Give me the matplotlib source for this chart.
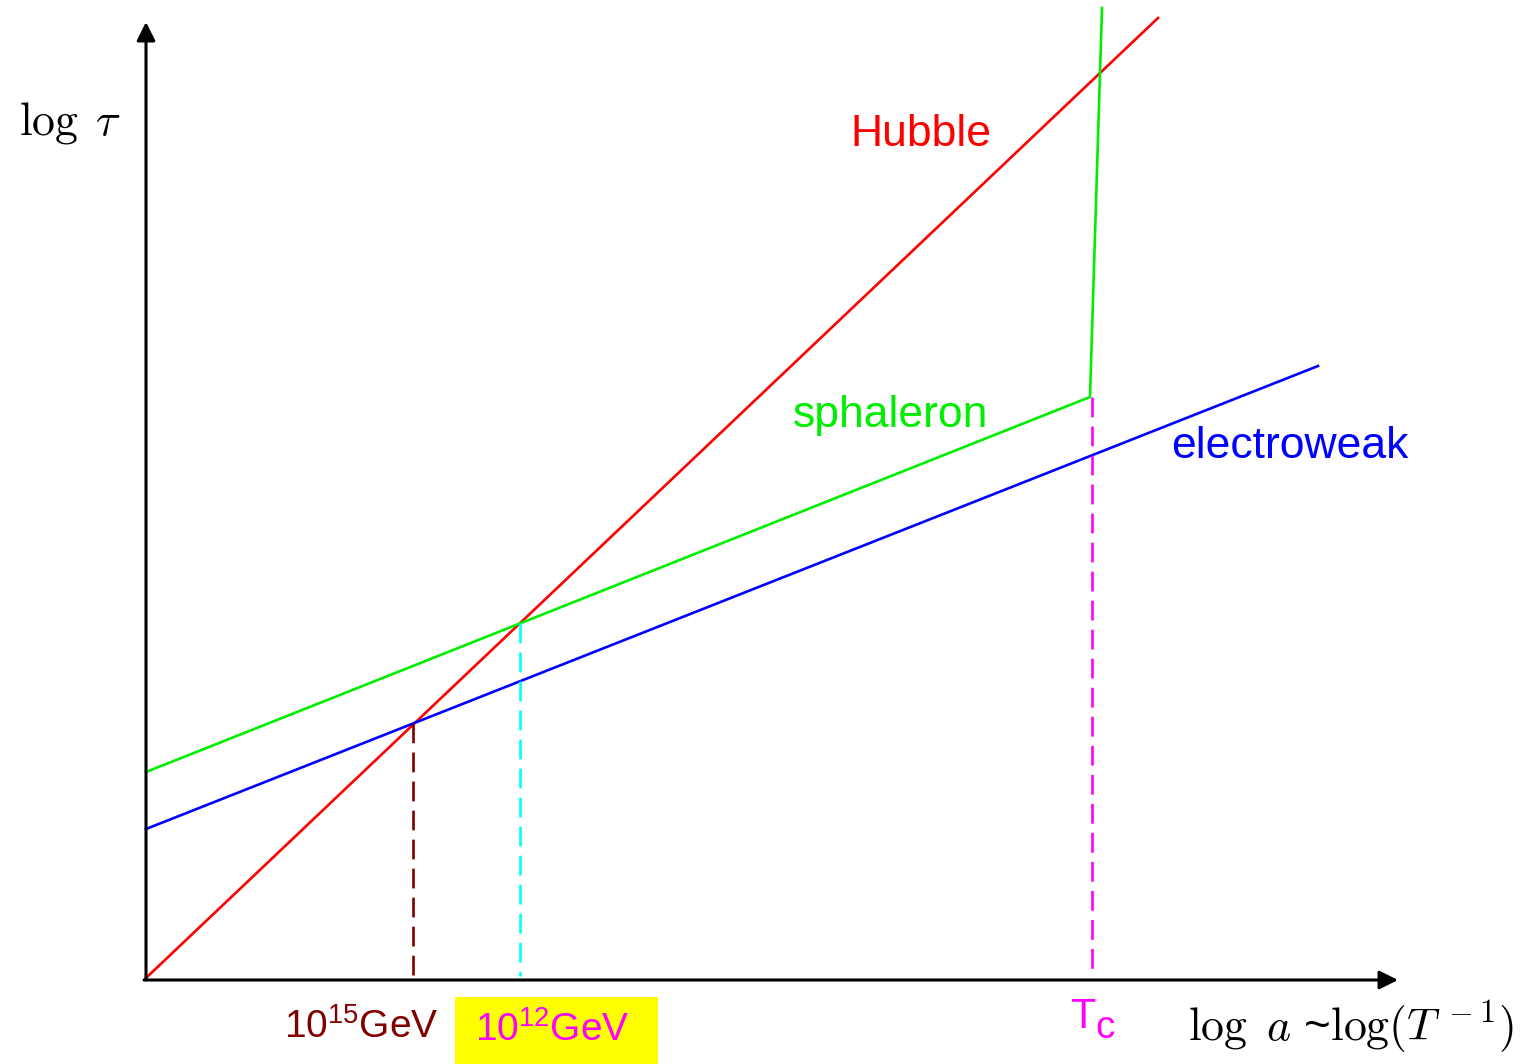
import matplotlib
matplotlib.use("Agg")
import matplotlib.pyplot as plt
from matplotlib.patches import Rectangle

plt.rcParams["font.family"] = ["Liberation Sans", "DejaVu Sans"]
plt.rcParams["mathtext.fontset"] = "custom"
plt.rcParams["mathtext.rm"] = "Liberation Sans"
plt.rcParams["mathtext.it"] = "Liberation Sans:italic"
plt.rcParams["mathtext.bf"] = "Liberation Sans:bold"

# Timescale lines (x = log a, y = log tau), schematic units
hubble_x = [0, 1012]
hubble_y = [2, 962]
electroweak_x = [0, 1172]
electroweak_y = [151, 614]
sphaleron_x = [0, 944, 956]
sphaleron_y = [208, 583, 972]

# Vertical markers: (x, top y, colour)
marker_x = [267, 374, 946]
marker_top = [257, 357, 583]
marker_colors = ["#800000", "#00ffff", "#ff00ff"]

fig = plt.figure(figsize=(15.27, 10.64), dpi=100)
ax = fig.add_axes([0, 0, 1, 1])
ax.set_xlim(-146, 1381)
ax.set_ylim(-84, 980)
ax.axis("off")

# Axes with arrow heads
arrow = dict(arrowstyle="-|>", color="black", lw=2.2, mutation_scale=28,
             shrinkA=0, shrinkB=0)
ax.annotate("", xy=(0, 958), xytext=(0, 0), arrowprops=arrow)
ax.annotate("", xy=(1252, 0), xytext=(-2, 0), arrowprops=arrow)

ax.plot(hubble_x, hubble_y, color="#ff0000", lw=1.9)
ax.plot(electroweak_x, electroweak_y, color="#0000ff", lw=1.9)
ax.plot(sphaleron_x, sphaleron_y, color="#00ee00", lw=1.9)

for x, top, c in zip(marker_x, marker_top, marker_colors):
    ax.plot([x, x], [top, 4], color=c, lw=1.9, dashes=(7.5, 3.5))

fs = 32
ax.text(775, 845, "Hubble", color="#ff0000", fontsize=fs, ha="center", va="center")
ax.text(744, 565, "sphaleron", color="#00ee00", fontsize=fs, ha="center", va="center")
ax.text(1144, 533, "electroweak", color="#0000ff", fontsize=fs, ha="center", va="center")

ax.add_patch(Rectangle((309, -84), 203, 67, facecolor="#ffff00", edgecolor="none"))
ax.text(215, -47, r"10$^{15}$GeV", color="#800000", fontsize=fs - 4,
        ha="center", va="center")
ax.text(406, -50, r"10$^{12}$GeV", color="#ff00ff", fontsize=fs - 4,
        ha="center", va="center")
ax.text(937, -37, "T", color="#ff00ff", fontsize=fs - 2, ha="center", va="center")
ax.text(959, -48, "c", color="#ff00ff", fontsize=fs - 4, ha="center", va="center")

ax.text(-76, 857, r"$\log\;\tau$", fontsize=fs + 1, ha="center", va="center",
        math_fontfamily="cm")
ax.text(1205, -47, r"$\log\ a$ ~$\log(T^{\,-1})$", fontsize=fs + 1, ha="center",
        va="center", math_fontfamily="cm")

fig.savefig("out.png", dpi=100)
